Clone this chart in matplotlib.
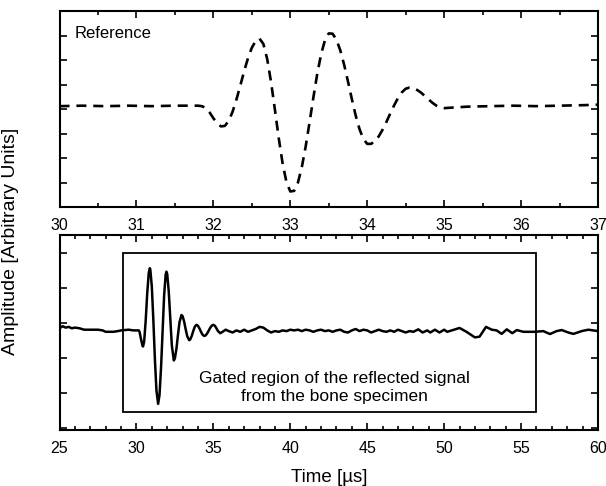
import numpy as np
import matplotlib.pyplot as plt
from matplotlib.patches import Rectangle
from matplotlib.ticker import MultipleLocator, NullFormatter

plt.rcParams['font.family'] = ['Liberation Sans', 'DejaVu Sans']

# reference pulse (top panel), time in microseconds
ref_t = [30.0, 30.3, 30.6, 30.9, 31.2, 31.5, 31.8, 31.85, 31.9, 31.95,
         32.0, 32.05, 32.1, 32.15, 32.2, 32.25, 32.3, 32.35, 32.4, 32.45,
         32.5, 32.55, 32.6, 32.65, 32.7, 32.75, 32.8, 32.85, 32.9, 32.95,
         33.0, 33.05, 33.1, 33.15, 33.2, 33.25, 33.3, 33.35, 33.4, 33.45,
         33.5, 33.55, 33.6, 33.65, 33.7, 33.75, 33.8, 33.85, 33.9, 33.95,
         34.0, 34.05, 34.1, 34.15, 34.2, 34.25, 34.3, 34.35, 34.4, 34.45,
         34.5, 34.55, 34.6, 34.65, 34.7, 34.75, 34.8, 34.85, 34.9, 34.95,
         35.0, 35.1, 35.2, 35.3, 35.6, 35.9, 36.2, 36.5, 36.8, 37.0]
ref_v = [0.03, 0.035, 0.03, 0.035, 0.03, 0.035, 0.035, 0.03, 0.013, -0.033,
         -0.093, -0.147, -0.177, -0.171, -0.12, -0.026, 0.098, 0.24, 0.387, 0.52,
         0.627, 0.696, 0.72, 0.666, 0.511, 0.275, -0.006, -0.297, -0.554, -0.745,
         -0.841, -0.835, -0.749, -0.592, -0.382, -0.137, 0.118, 0.358, 0.559, 0.702,
         0.773, 0.77, 0.709, 0.60, 0.453, 0.282, 0.103, -0.065, -0.205, -0.305,
         -0.355, -0.355, -0.328, -0.278, -0.21, -0.13, -0.044, 0.039, 0.113, 0.171,
         0.208, 0.22, 0.214, 0.195, 0.168, 0.133, 0.097, 0.063, 0.035, 0.016,
         0.01, 0.015, 0.02, 0.025, 0.03, 0.035, 0.03, 0.035, 0.04, 0.045]

# reflected signal (bottom panel)
sig_t = [25.0, 25.2, 25.4, 25.6, 25.8, 26.0, 26.3, 26.6, 27.0, 27.5,
         27.8, 28.0, 28.5, 28.8, 29.0, 29.5, 29.8, 30.0, 30.15, 30.2,
         30.3, 30.4, 30.43, 30.5, 30.6, 30.7, 30.8, 30.87, 30.9, 31.0,
         31.1, 31.2, 31.3, 31.41, 31.5, 31.6, 31.7, 31.8, 31.9, 31.95,
         32.0, 32.1, 32.2, 32.3, 32.43, 32.5, 32.6, 32.7, 32.8, 32.93,
         33.0, 33.1, 33.2, 33.3, 33.43, 33.5, 33.6, 33.7, 33.8, 33.9,
         34.0, 34.1, 34.2, 34.3, 34.41, 34.5, 34.6, 34.7, 34.8, 34.9,
         35.0, 35.1, 35.2, 35.3, 35.45, 35.6, 35.8, 36.0, 36.25, 36.5,
         36.75, 37.0, 37.25, 37.5, 37.75, 38.0, 38.25, 38.5, 38.75, 39.0,
         39.25, 39.5, 39.75, 40.0, 40.25, 40.5, 40.75, 41.0, 41.25, 41.5,
         41.75, 42.0, 42.25, 42.5, 42.75, 43.0, 43.25, 43.5, 43.75, 44.0,
         44.25, 44.5, 44.75, 45.0, 45.25, 45.5, 45.75, 46.0, 46.25, 46.5,
         46.75, 47.0, 47.25, 47.5, 47.75, 48.0, 48.32, 48.6, 48.9, 49.1,
         49.4, 49.7, 50.0, 50.2, 50.5, 51.0, 51.45, 52.0, 52.3, 52.72,
         53.1, 53.41, 53.74, 54.07, 54.43, 54.72, 55.15, 55.9, 56.44, 56.88,
         57.31, 57.64, 58.07, 58.4, 58.94, 59.37, 59.7, 60.0]
sig_v = [-0.07, -0.04, -0.06, -0.05, -0.07, -0.06, -0.07, -0.09, -0.09, -0.09,
         -0.10, -0.12, -0.12, -0.11, -0.10, -0.09, -0.10, -0.10, -0.10, -0.118,
         -0.228, -0.324, -0.33, -0.262, 0.034, 0.426, 0.722, 0.79, 0.775, 0.526,
         0.043, -0.512, -0.958, -1.15, -1.023, -0.63, -0.095, 0.402, 0.70, 0.74,
         0.706, 0.458, 0.063, -0.314, -0.53, -0.499, -0.362, -0.164, 0.018, 0.12,
         0.103, 0.027, -0.083, -0.183, -0.24, -0.228, -0.176, -0.104, -0.044, -0.02,
         -0.035, -0.073, -0.122, -0.162, -0.18, -0.171, -0.142, -0.102, -0.061, -0.031,
         -0.02, -0.034, -0.07, -0.11, -0.14, -0.12, -0.09, -0.11, -0.13, -0.10,
         -0.12, -0.09, -0.12, -0.10, -0.08, -0.05, -0.06, -0.10, -0.13, -0.11,
         -0.12, -0.10, -0.11, -0.09, -0.10, -0.09, -0.11, -0.09, -0.10, -0.12,
         -0.10, -0.09, -0.11, -0.10, -0.12, -0.10, -0.09, -0.12, -0.13, -0.10,
         -0.08, -0.11, -0.09, -0.10, -0.13, -0.11, -0.09, -0.11, -0.12, -0.10,
         -0.12, -0.09, -0.11, -0.13, -0.11, -0.12, -0.085, -0.13, -0.10, -0.13,
         -0.09, -0.13, -0.09, -0.12, -0.10, -0.065, -0.12, -0.20, -0.19, -0.05,
         -0.09, -0.10, -0.15, -0.085, -0.14, -0.095, -0.12, -0.12, -0.11, -0.152,
         -0.11, -0.095, -0.13, -0.15, -0.11, -0.09, -0.10, -0.11]

# gate window
gate_start, gate_end = 29.15, 56.0
gate_low, gate_high = -1.27, 1.0

fig = plt.figure(figsize=(6.06, 4.86), dpi=100)
ax1 = fig.add_axes([0.0982, 0.574, 0.8886, 0.403])
ax2 = fig.add_axes([0.0982, 0.1152, 0.8886, 0.401])

ax1.plot(ref_t, ref_v, color='black', lw=1.9, linestyle=(0, (3.8, 2.6)))
ax1.set_xlim(30, 37)
ax1.set_ylim(-1, 1)
ax1.xaxis.set_major_locator(MultipleLocator(1))
ax1.xaxis.set_minor_locator(MultipleLocator(0.5))
ax1.yaxis.set_major_locator(MultipleLocator(0.25))
ax1.yaxis.set_major_formatter(NullFormatter())
ax1.text(30.2, 0.77, 'Reference', fontsize=12, va='center', ha='left')

ax2.plot(sig_t, sig_v, color='black', lw=1.8)
ax2.add_patch(Rectangle((gate_start, gate_low), gate_end - gate_start,
                        gate_high - gate_low, fill=False, ec='black', lw=1.3))
ax2.text(42.9, -0.92, 'Gated region of the reflected signal\nfrom the bone specimen',
         fontsize=12.5, ha='center', va='center', linespacing=1.25)
ax2.set_xlim(25, 60)
ax2.set_ylim(-1.524, 1.262)
ax2.xaxis.set_major_locator(MultipleLocator(5))
ax2.xaxis.set_minor_locator(MultipleLocator(1))
ax2.yaxis.set_major_locator(MultipleLocator(0.5))
ax2.yaxis.set_major_formatter(NullFormatter())
ax2.set_xlabel('Time [\u00b5s]', fontsize=13.5, labelpad=9)

for ax in (ax1, ax2):
    for sp in ax.spines.values():
        sp.set_linewidth(1.5)
    ax.tick_params(which='both', direction='in', top=True, right=True,
                   width=1.2, labelsize=11.5, pad=8)
    ax.tick_params(which='major', length=5)
    ax.tick_params(which='minor', length=3)

# axis title sits against the left edge of the figure
fig.text(0.031, (486 - 241) / 486, 'Amplitude [Arbitrary Units]', rotation=90,
         fontsize=14, ha='right', va='center')

fig.savefig('out.png', dpi=100)
